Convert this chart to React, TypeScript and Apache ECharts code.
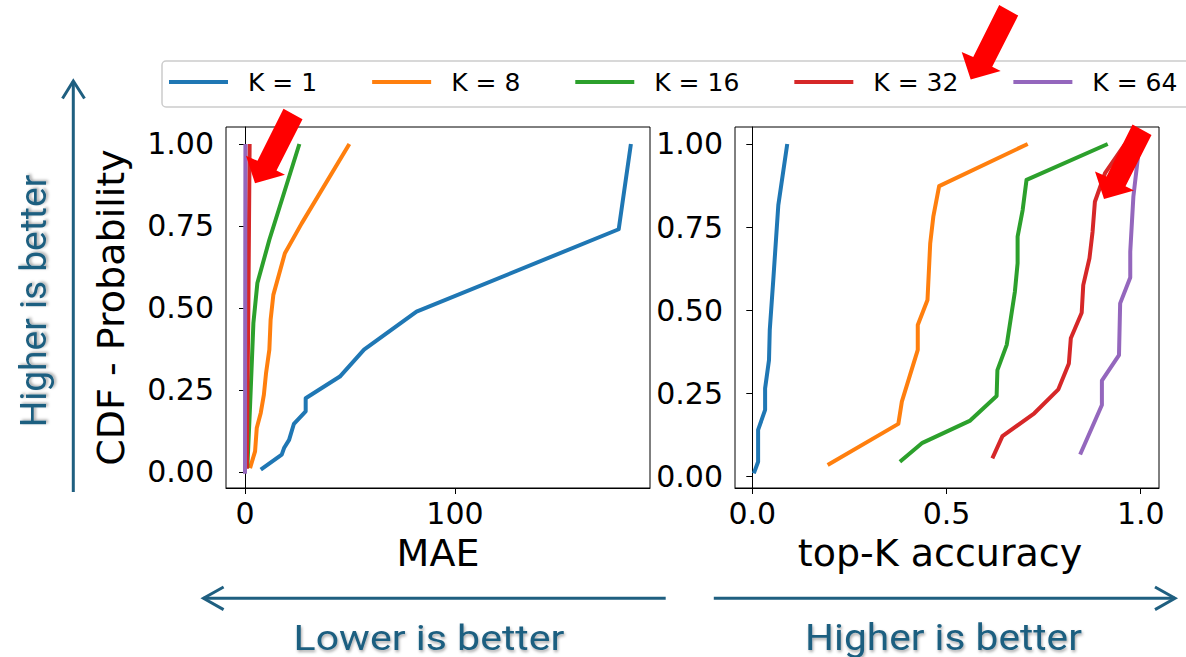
import React, { useEffect, useRef } from "react";
import * as echarts from "echarts";

// ---- data ----
const seriesNames = ["K = 1", "K = 8", "K = 16", "K = 32", "K = 64"];
const seriesColors = ["#1f77b4", "#ff7f0e", "#2ca02c", "#d62728", "#9467bd"];

// Left panel: MAE vs CDF probability
const maeK1 = [
  [7.5, 0.007], [17.5, 0.053], [18.6, 0.073], [21, 0.098], [23.3, 0.147],
  [28.9, 0.185], [28.9, 0.225], [45.2, 0.291], [56.7, 0.373], [81.7, 0.489],
  [178, 0.74], [183.8, 1.0],
];
const maeK8 = [
  [2.4, 0.012], [4.8, 0.063], [5.6, 0.134], [7.5, 0.18], [9, 0.236],
  [10, 0.3], [11.6, 0.373], [12.2, 0.464], [13.5, 0.54], [19, 0.667],
  [27, 0.758], [49.7, 1.0],
];
const maeK16 = [
  [1.1, 0.012], [2.4, 0.2], [4, 0.454], [5.9, 0.576], [11.6, 0.708], [25.9, 1.0],
];
const maeK32 = [
  [0.9, 0.01], [1.2, 0.25], [1.6, 0.5], [1.9, 0.75], [2.2, 1.0],
];
const maeK64 = [
  [0.0, -0.005], [0.05, 0.25], [0.1, 0.5], [0.15, 0.75], [0.2, 1.0],
];

// Right panel: top-K accuracy vs CDF probability
const accK1 = [
  [0.004, 0.008], [0.015, 0.043], [0.015, 0.139], [0.033, 0.199], [0.033, 0.264],
  [0.043, 0.349], [0.045, 0.44], [0.054, 0.59], [0.067, 0.816], [0.09, 1.0],
];
const accK8 = [
  [0.194, 0.033], [0.376, 0.157], [0.385, 0.224], [0.406, 0.304], [0.426, 0.38],
  [0.426, 0.455], [0.451, 0.53], [0.458, 0.7], [0.466, 0.781], [0.481, 0.873],
  [0.709, 1.0],
];
const accK16 = [
  [0.38, 0.043], [0.438, 0.1], [0.561, 0.167], [0.629, 0.241], [0.631, 0.319],
  [0.655, 0.395], [0.676, 0.555], [0.683, 0.641], [0.683, 0.721], [0.696, 0.801],
  [0.706, 0.892], [0.915, 1.0],
];
const accK32 = [
  [0.618, 0.053], [0.644, 0.12], [0.726, 0.189], [0.788, 0.261], [0.815, 0.339],
  [0.82, 0.415], [0.848, 0.492], [0.852, 0.575], [0.868, 0.656], [0.876, 0.736],
  [0.882, 0.826], [0.908, 0.912], [0.96, 1.0],
];
const accK64 = [
  [0.844, 0.065], [0.9, 0.214], [0.9, 0.287], [0.944, 0.364], [0.947, 0.52],
  [0.973, 0.598], [0.973, 0.676], [0.981, 0.841], [0.994, 0.972], [1.0, 1.0],
];

const yTicks = [0, 0.25, 0.5, 0.75, 1.0];
const maeTicks = [0, 100];
const accTicks = [0, 0.5, 1.0];

const maeSeries = [maeK1, maeK8, maeK16, maeK32, maeK64];
const accSeries = [accK1, accK8, accK16, accK32, accK64];

// ---- styling ----
const FONT = "DejaVu Sans";
const NOTE_COLOR = "#1f5f80";
const NOTE_FONT = "Roboto";

// red block arrow shape, relative to its tip
const arrowShape = [
  [28.5, -74.5], [47.5, -64], [21.5, -12.8], [30, -8.5], [0, 0], [-9, -27.5], [2.5, -22.5],
];
const arrowTips = [
  [970.7, 79.5],
  [255, 183.3],
  [1104, 199],
];

function makeYAxis(gridIndex: number, min: number, max: number, withName: boolean) {
  return {
    type: "value",
    gridIndex,
    min,
    max,
    name: withName ? "CDF - Probability" : "",
    nameLocation: "middle",
    nameGap: 96,
    nameTextStyle: { fontSize: 38, fontFamily: FONT, color: "#000" },
    axisLine: { show: true, lineStyle: { color: "#000", width: 1 } },
    axisTick: { show: true, length: 6, lineStyle: { color: "#000", width: 1 }, customValues: yTicks },
    axisLabel: {
      customValues: yTicks,
      formatter: (v: number) => v.toFixed(2),
      fontSize: 30,
      fontFamily: FONT,
      color: "#000",
      margin: 12,
    },
    splitLine: { show: false },
  };
}

export default function App() {
  const ref = useRef<HTMLDivElement>(null);

  useEffect(() => {
    if (!ref.current) return;
    const chart = echarts.init(ref.current, undefined, { renderer: "svg" });

    const series: any[] = [];
    seriesNames.forEach((name, i) => {
      series.push({
        name,
        type: "line",
        xAxisIndex: 0,
        yAxisIndex: 0,
        data: maeSeries[i],
        showSymbol: false,
        symbol: "none",
        lineStyle: { color: seriesColors[i], width: 4, cap: "butt", join: "round" },
        itemStyle: { color: seriesColors[i] },
        z: 2 + i,
      });
    });
    seriesNames.forEach((name, i) => {
      series.push({
        name,
        type: "line",
        xAxisIndex: 1,
        yAxisIndex: 1,
        data: accSeries[i],
        showSymbol: false,
        symbol: "none",
        lineStyle: { color: seriesColors[i], width: 4, cap: "butt", join: "round" },
        itemStyle: { color: seriesColors[i] },
        z: 2 + i,
      });
    });

    const shadow = {
      textShadowColor: "rgba(0,0,0,0.35)",
      textShadowBlur: 3,
      textShadowOffsetX: 1,
      textShadowOffsetY: 2,
    };

    const graphics: any[] = [
      // legend frame
      {
        type: "rect",
        z: 1,
        shape: { x: 162, y: 61, width: 1060, height: 46, r: 4 },
        style: { fill: "rgba(255,255,255,0.8)", stroke: "#cccccc", lineWidth: 1.5 },
      },
      // vertical blue arrow
      {
        type: "line",
        shape: { x1: 73.3, y1: 492, x2: 73.3, y2: 81 },
        style: { stroke: NOTE_COLOR, lineWidth: 3 },
      },
      {
        type: "polyline",
        shape: { points: [[62.5, 98.5], [73.3, 81], [84.5, 98.5]] },
        style: { stroke: NOTE_COLOR, lineWidth: 3, fill: null },
      },
      // left horizontal arrow
      {
        type: "line",
        shape: { x1: 203.5, y1: 598.3, x2: 665.7, y2: 598.3 },
        style: { stroke: NOTE_COLOR, lineWidth: 3 },
      },
      {
        type: "polyline",
        shape: { points: [[223.6, 587], [203.5, 598.3], [223.6, 609.6]] },
        style: { stroke: NOTE_COLOR, lineWidth: 3, fill: null },
      },
      // right horizontal arrow
      {
        type: "line",
        shape: { x1: 713.8, y1: 598.3, x2: 1175, y2: 598.3 },
        style: { stroke: NOTE_COLOR, lineWidth: 3 },
      },
      {
        type: "polyline",
        shape: { points: [[1155, 587], [1175, 598.3], [1155, 609.6]] },
        style: { stroke: NOTE_COLOR, lineWidth: 3, fill: null },
      },
      // notes
      {
        type: "text",
        x: 429,
        y: 637,
        scaleX: 1.14,
        style: {
          text: "Lower is better",
          font: `36px ${NOTE_FONT}`,
          fill: NOTE_COLOR,
          textAlign: "center",
          textVerticalAlign: "middle",
          ...shadow,
        },
      },
      {
        type: "text",
        x: 943.5,
        y: 637,
        scaleX: 1.13,
        style: {
          text: "Higher is better",
          font: `36px ${NOTE_FONT}`,
          fill: NOTE_COLOR,
          textAlign: "center",
          textVerticalAlign: "middle",
          ...shadow,
        },
      },
      {
        type: "text",
        x: 34,
        y: 301,
        rotation: Math.PI / 2,
        scaleX: 1.03,
        style: {
          text: "Higher is better",
          font: `36px ${NOTE_FONT}`,
          fill: NOTE_COLOR,
          textAlign: "center",
          textVerticalAlign: "middle",
          ...shadow,
        },
      },
    ];

    arrowTips.forEach(([tx, ty]) => {
      graphics.push({
        type: "polygon",
        z: 100,
        shape: { points: arrowShape.map(([dx, dy]) => [tx + dx, ty + dy]) },
        style: { fill: "#ff0000", stroke: null },
      });
    });

    chart.setOption({
      animation: false,
      backgroundColor: "#ffffff",
      textStyle: { fontFamily: FONT },
      legend: {
        data: seriesNames,
        left: 169,
        top: 67,
        padding: 0,
        itemWidth: 59,
        itemHeight: 4,
        itemGap: 55,
        icon: "rect",
        z: 3,
        textStyle: {
          fontSize: 25,
          fontFamily: FONT,
          color: "#000",
          padding: [0, 0, 0, 15],
          lineHeight: 30,
        },
      },
      grid: [
        { left: 226, top: 127, width: 424, height: 361, show: true, borderColor: "#000", borderWidth: 1, backgroundColor: "transparent" },
        { left: 735, top: 127, width: 424, height: 361, show: true, borderColor: "#000", borderWidth: 1, backgroundColor: "transparent" },
      ],
      xAxis: [
        {
          type: "value",
          gridIndex: 0,
          min: -9.05,
          max: 192.9,
          name: "MAE",
          nameLocation: "middle",
          nameGap: 46,
          nameTextStyle: { fontSize: 38, fontFamily: FONT, color: "#000" },
          axisLine: { show: true, onZero: false, lineStyle: { color: "#000", width: 1 } },
          axisTick: { show: true, length: 6, lineStyle: { color: "#000", width: 1 }, customValues: maeTicks },
          axisLabel: { customValues: maeTicks, formatter: (v: number) => String(Math.round(v)), fontSize: 30, fontFamily: FONT, color: "#000", margin: 10 },
          splitLine: { show: false },
        },
        {
          type: "value",
          gridIndex: 1,
          min: -0.0445,
          max: 1.047,
          name: "top-K accuracy",
          nameLocation: "middle",
          nameGap: 46,
          nameTextStyle: { fontSize: 38, fontFamily: FONT, color: "#000", padding: [0, 14, 0, 0] },
          axisLine: { show: true, onZero: false, lineStyle: { color: "#000", width: 1 } },
          axisTick: { show: true, length: 6, lineStyle: { color: "#000", width: 1 }, customValues: accTicks },
          axisLabel: { customValues: accTicks, formatter: (v: number) => v.toFixed(1), fontSize: 30, fontFamily: FONT, color: "#000", margin: 10 },
          splitLine: { show: false },
        },
      ],
      yAxis: [makeYAxis(0, -0.0488, 1.0518, true), makeYAxis(1, -0.0361, 1.0512, false)],
      series,
      graphic: { elements: graphics },
    });

    return () => chart.dispose();
  }, []);

  return (
    <div
      ref={ref}
      style={{ position: "fixed", left: 0, top: 0, width: 1186, height: 657, background: "#fff" }}
    />
  );
}
